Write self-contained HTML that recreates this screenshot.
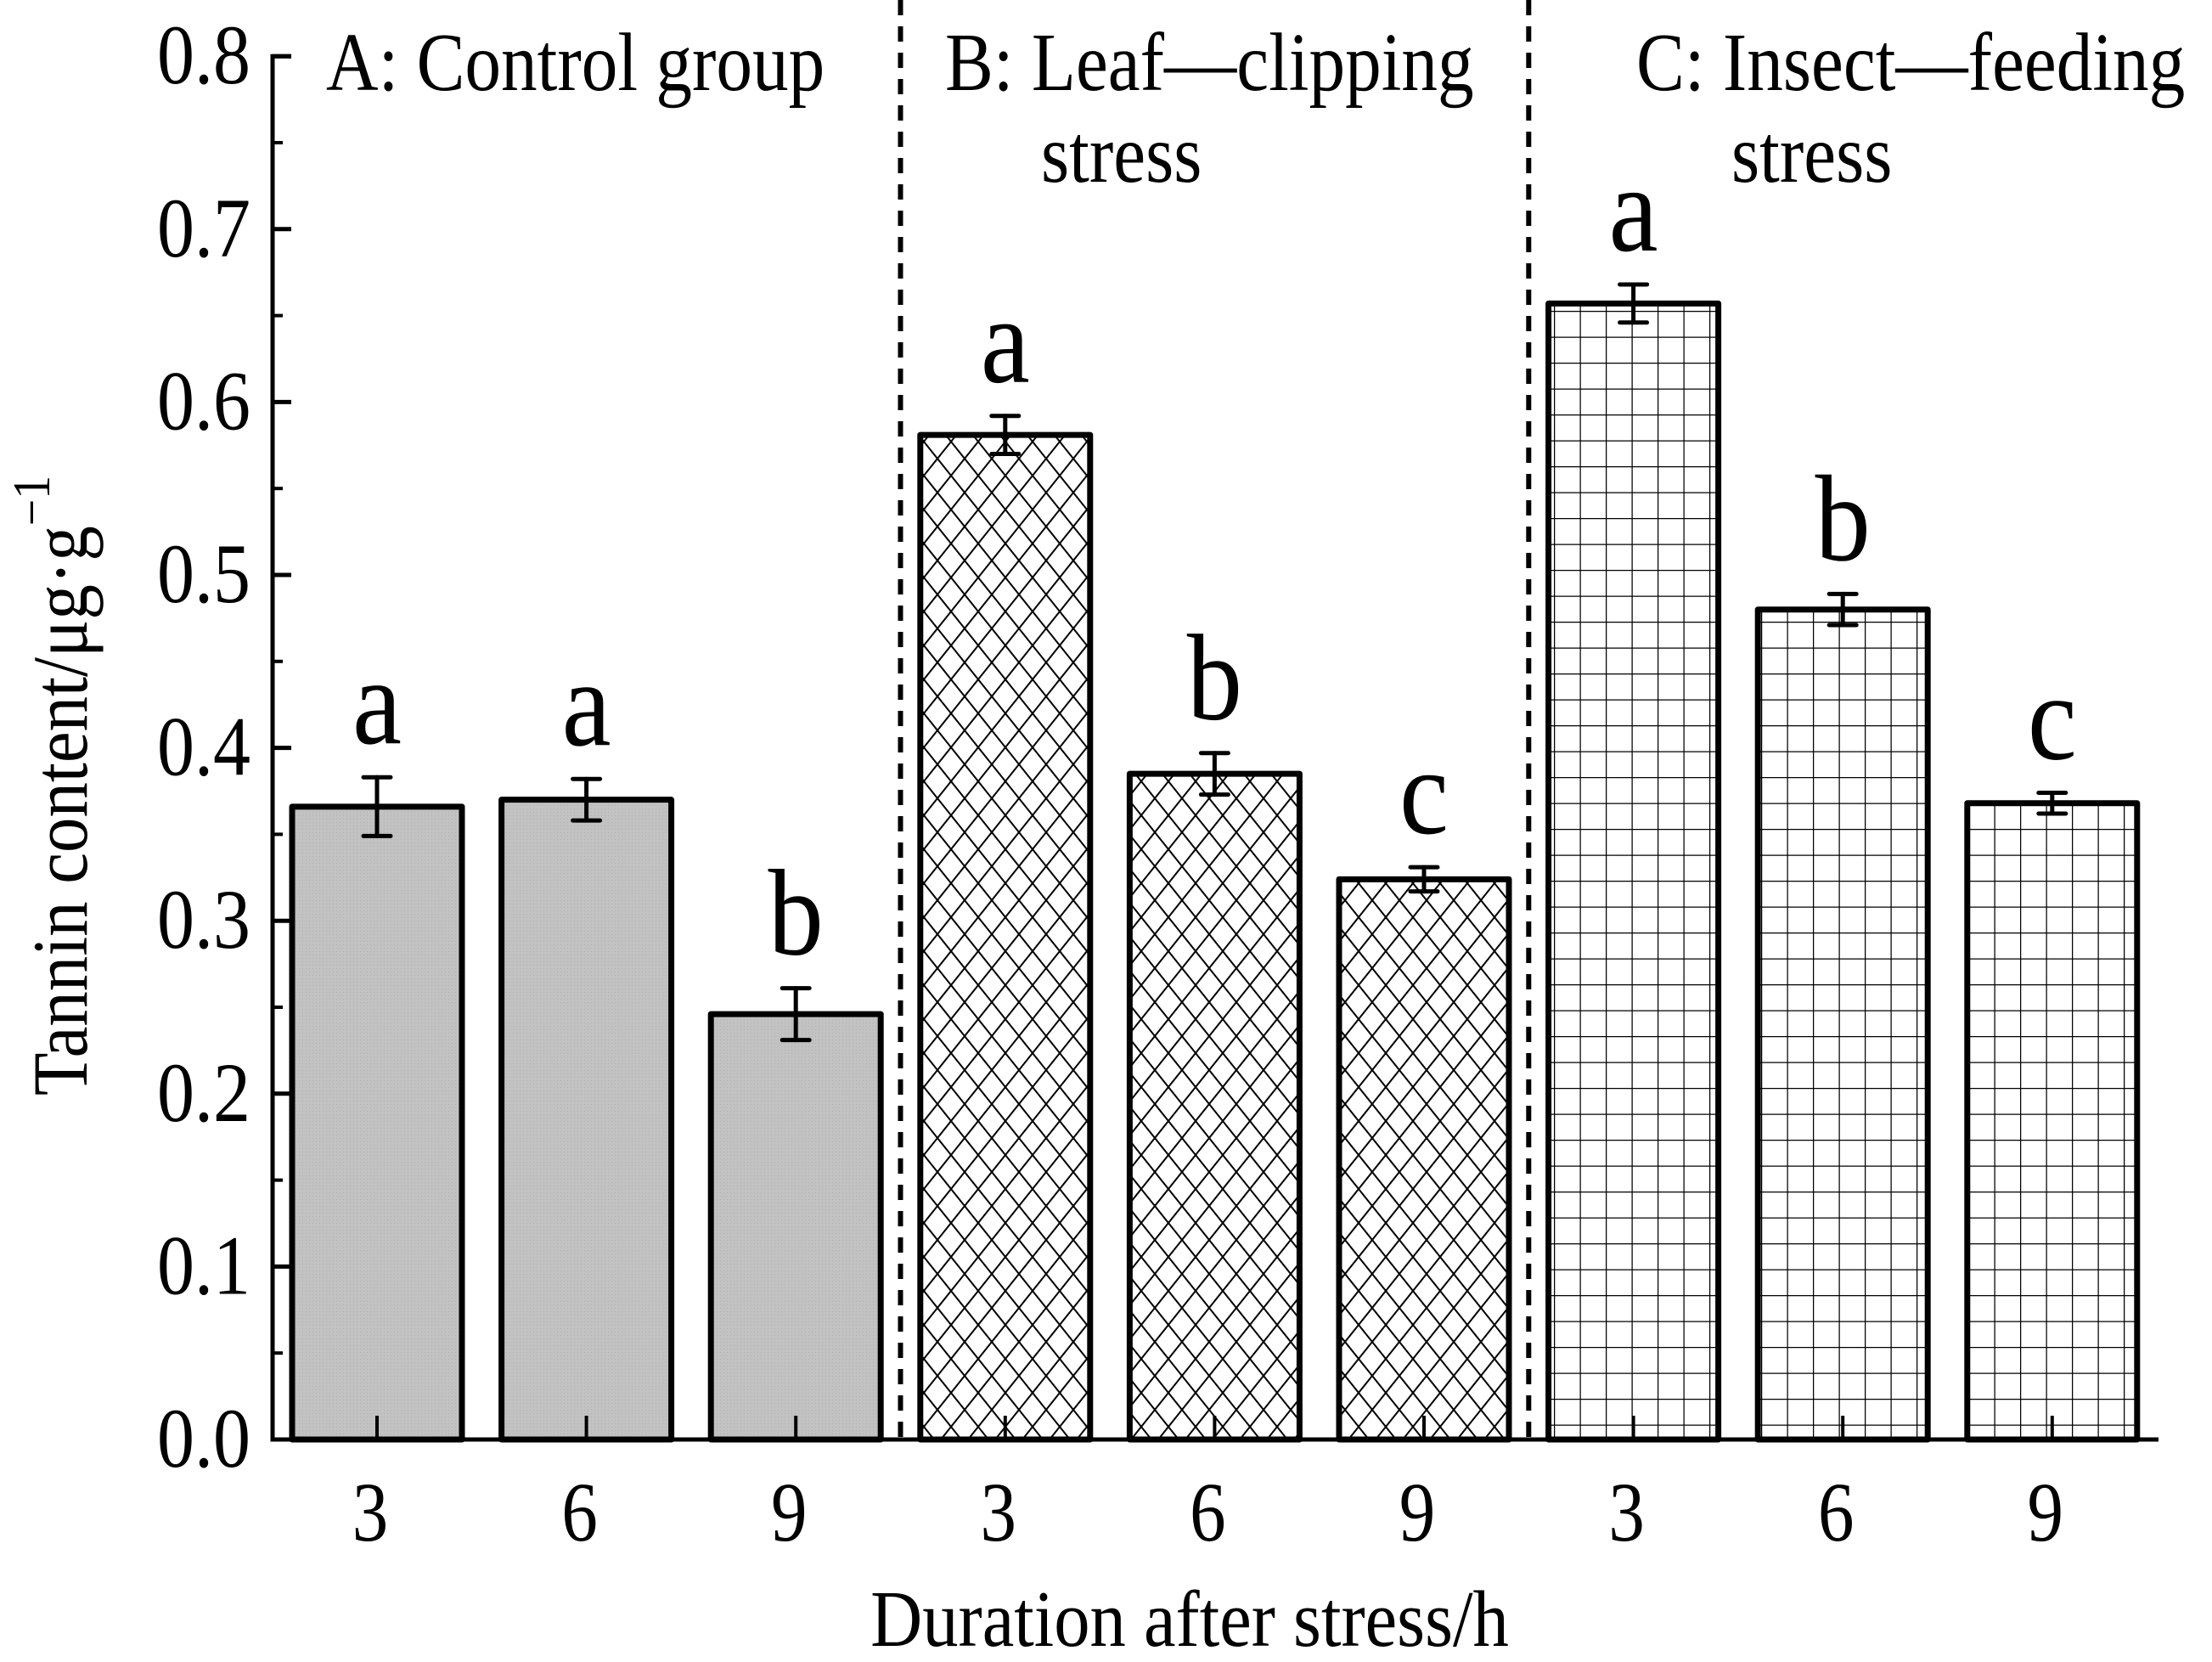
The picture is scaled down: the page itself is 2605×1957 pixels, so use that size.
<!DOCTYPE html>
<html><head><meta charset="utf-8">
<style>
html,body{margin:0;padding:0;background:#fff;}
svg{display:block;font-family:"Liberation Serif","DejaVu Serif",serif;}
</style></head>
<body>
<svg id="chart" width="2605" height="1957" viewBox="0 0 2605 1957" xmlns="http://www.w3.org/2000/svg">
<defs>
<pattern id="pGray" patternUnits="userSpaceOnUse" width="4" height="4">
<rect width="4" height="4" fill="#c2c2c2"/><rect width="1" height="1" fill="#b0b0b0"/>
</pattern>
<pattern id="pCross" patternUnits="userSpaceOnUse" width="32" height="40">
<rect width="32" height="40" fill="#fff"/>
<path d="M0,0 L32,40 M32,0 L0,40 M-16,20 L0,40 M16,-20 L48,20 M48,20 L32,40 M16,60 L-16,20" stroke="#000" stroke-width="2" fill="none"/>
</pattern>
<pattern id="pGrid" patternUnits="userSpaceOnUse" width="30.5" height="30.5">
<rect width="30.5" height="30.5" fill="#fff"/>
<path d="M0,0 L30.5,0 M0,0 L0,30.5" stroke="#000" stroke-width="2.5" fill="none"/>
</pattern>
</defs>
<g id="plot"></g>
</svg>
<script>
const categories = ["3","6","9","3","6","9","3","6","9"];
const groups = ["A","A","A","B","B","B","C","C","C"];
const values = [0.366,0.370,0.246,0.581,0.385,0.324,0.657,0.480,0.368];
const errors = [0.017,0.012,0.015,0.011,0.012,0.007,0.011,0.009,0.006];
const letters = ["a","a","b","a","b","c","a","b","c"];
const yTicks = ["0.0","0.1","0.2","0.3","0.4","0.5","0.6","0.7","0.8"];

const NS="http://www.w3.org/2000/svg";
const g=document.getElementById('plot');
const X0=321, XEND=2542, Y0=1695, PER=2036;
function y(v){return Y0 - v*PER;}
function xc(i){return 444 + i*246.6;}
function mk(tag,attrs,parent){const e=document.createElementNS(NS,tag);for(const k in attrs)e.setAttribute(k,attrs[k]);(parent||g).appendChild(e);return e;}
function st(s,x,yy,fs,anchor,sx){const t=mk('text',{x:0,y:0,'font-size':fs,'text-anchor':anchor||'start',transform:`translate(${x},${yy}) scale(${sx||0.86},1)`});t.textContent=s;return t;}
const fills={A:"url(#pGray)",B:"url(#pCross)",C:"url(#pGrid)"};
const BW=200;

[ (xc(2)+xc(3))/2, (xc(5)+xc(6))/2 ].forEach((x,i)=>{
  const l=mk('line',{x1:x,y1:0,x2:x,y2:Y0,stroke:'#000','stroke-width':6,'stroke-dasharray':'18,13'});
  
  
});

values.forEach((v,i)=>{
  const x=xc(i);
  const r=mk('rect',{x:x-BW/2,y:y(v),width:BW,height:Y0-y(v),fill:fills[groups[i]],stroke:'#000','stroke-width':7,'stroke-linejoin':'round'});
  
  
  const e=errors[i], eb=mk('g',{stroke:'#000','stroke-width':5,'stroke-linecap':'round'});
  
  
  mk('line',{x1:x,y1:y(v+e),x2:x,y2:y(v-e)},eb);
  mk('line',{x1:x-16,y1:y(v+e),x2:x+16,y2:y(v+e)},eb);
  mk('line',{x1:x-16,y1:y(v-e),x2:x+16,y2:y(v-e)},eb);
  const t=st(letters[i],x,y(v+e)-40,145,'middle',0.9);
  
  
  const tk=mk('line',{x1:x,y1:Y0,x2:x,y2:Y0-28,stroke:'#000','stroke-width':4});
  
  
  const tl=st(categories[i],x-8,1814,100,'middle',0.85);
  
  
});

const ax=mk('path',{d:`M${X0+22},${y(0.8)} L${X0},${y(0.8)} L${X0},${Y0} L${XEND},${Y0}`,fill:'none',stroke:'#000','stroke-width':5});


yTicks.forEach((lab,i)=>{
  const v=parseFloat(lab);
  const t=mk('line',{x1:X0,y1:y(v),x2:X0+22,y2:y(v),stroke:'#000','stroke-width':5});
  
  
  if(i<yTicks.length-1){
    const m=mk('line',{x1:X0,y1:y(v+0.05),x2:X0+12,y2:y(v+0.05),stroke:'#000','stroke-width':4});
    
    
  }
  const tl=st(lab,X0-26,y(v)+32,100,'end',0.88);
  
  
});

function txt(s,x,yy,name,fs,anchor,sx){const t=st(s,x,yy,fs,anchor,sx);return t;}
txt("A: Control group",384,106,'group-label-a',98,'start',0.87);
txt("B: Leaf\u2014clipping",1113,106,'group-label-b',98,'start',0.87);
txt("stress",1226,214,'group-label-b-line2',98,'start',0.87);
txt("C: Insect\u2014feeding",1927,106,'group-label-c',98,'start',0.87);
txt("stress",2039,214,'group-label-c-line2',98,'start',0.87);
txt("Duration after stress/h",1401,1938,'x-axis-title',94,'middle',0.9);
const yt=mk('text',{x:0,y:0,'font-size':92,'text-anchor':'middle',transform:'translate(102,925) rotate(-90) scale(0.9,1)'});


yt.innerHTML='Tannin content/μg·g<tspan dy="-44" font-size="62">\u22121</tspan>';
</script>
</body></html>
